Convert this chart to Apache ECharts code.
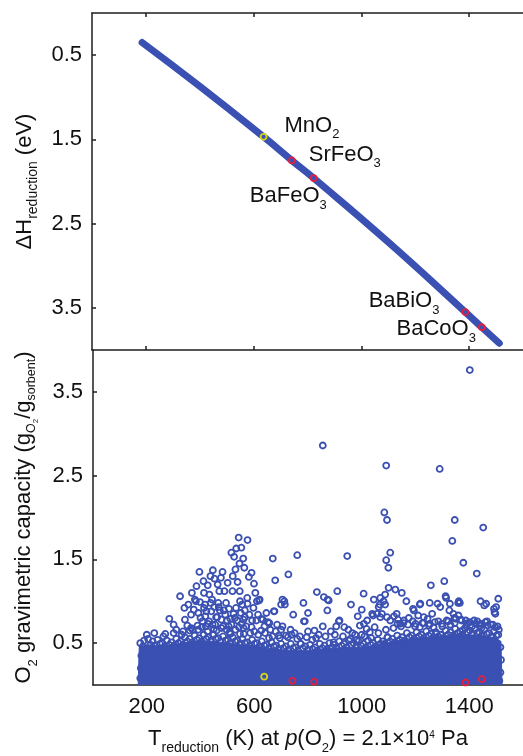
<!DOCTYPE html>
<html><head><meta charset="utf-8">
<script src="https://cdn.jsdelivr.net/npm/echarts@6/dist/echarts.min.js"></script>
<style>html,body{margin:0;padding:0;background:#fff}#c{width:523px;height:756px}</style>
</head><body><div id="c"></div>
<script>
// ---------- data ----------
const xTicks = [200, 600, 1000, 1400];
const yTicks = [0.5, 1.5, 2.5, 3.5];

// top panel: reduction enthalpy vs reduction temperature (thick band)
const curveT = [186, 400, 637, 742, 823, 1100, 1386, 1447, 1512];
const curveH = [0.35, 0.87, 1.47, 1.75, 1.96, 2.72, 3.55, 3.73, 3.92];

// highlighted compounds
const compounds = ['MnO2', 'SrFeO3', 'BaFeO3', 'BaBiO3', 'BaCoO3'];
const compoundT = [637, 742, 823, 1386, 1447];
const compoundH = [1.47, 1.75, 1.96, 3.55, 3.73];
const compoundCap = [0.10, 0.05, 0.04, 0.03, 0.07];

// bottom panel: solid dense core of overlapping points (upper envelope)
const coreT = [168, 172, 200, 250, 300, 350, 400, 450, 500, 550, 600, 650, 700, 750, 800, 850, 900, 950, 1000, 1050, 1100, 1150, 1200, 1250, 1300, 1350, 1400, 1450, 1500, 1518, 1522];
const coreCap = [0, 0.45, 0.48, 0.47, 0.48, 0.51, 0.53, 0.52, 0.50, 0.48, 0.47, 0.44, 0.42, 0.41, 0.41, 0.43, 0.44, 0.45, 0.45, 0.47, 0.51, 0.54, 0.56, 0.57, 0.58, 0.61, 0.60, 0.59, 0.56, 0.52, 0];

// bottom panel: individual points
const outliers = [[1402,3.76],[855,2.86],[1091,2.62],[1290,2.58],[1084,2.06],[1094,1.97],[1346,1.97],[1452,1.88],[1337,1.72],[1106,1.58],[1091,1.49],[1099,1.40],[1378,1.46],[1428,1.33],[946,1.54],[760,1.55],[669,1.51],[727,1.32],[678,1.25],[542,1.76],[575,1.73],[552,1.64],[533,1.63],[515,1.58],[559,1.51],[525,1.53],[396,1.35],[446,1.37],[482,1.35],[590,1.34],[580,1.29],[599,1.21],[1257,1.19],[1307,1.24]];
const clusterLeft = [[427,1.19],[411,1.24],[437,1.30],[464,1.20],[501,1.22],[538,1.23],[519,1.12],[546,1.12],[470,1.12],[433,1.08],[379,1.02],[398,0.99],[413,1.10],[417,0.96],[422,0.88],[443,1.02],[451,0.93],[466,0.98],[489,1.12],[495,0.98],[506,0.91],[472,0.89],[458,0.81],[511,0.79],[555,0.96],[565,0.89],[574,1.04],[610,1.00],[537,0.77],[592,0.77],[632,0.78],[656,0.74],[673,0.88],[342,0.78],[351,0.71],[360,0.65],[405,0.69],[432,0.76],[460,0.65],[508,0.63],[543,0.69],[561,0.61],[626,0.65],[324,1.06],[284,0.79],[620,1.02],[604,1.10],[383,1.00],[413,0.92],[438,0.98],[468,0.93],[487,0.89],[499,0.77],[523,0.85],[371,0.66],[389,0.71],[407,0.76],[428,0.73],[450,0.67],[462,0.81],[511,0.61],[269,0.61],[547,1.00],[575,0.97],[618,1.01],[565,0.81],[553,0.73],[590,0.69],[608,0.77],[626,0.79],[651,0.75],[675,0.88],[547,0.61],
  [365,0.84],[375,0.90],[392,0.86],[400,0.80],[418,0.82],[426,0.64],[440,0.88],[447,0.60],[455,0.72],[478,0.78],[484,0.70],[492,0.84],[497,0.66],[515,0.72],[528,0.80],[532,0.92],[550,0.86],[560,0.78],[570,0.70],[582,0.84],[597,0.92],[600,0.64],[614,0.84],[638,0.70],[645,0.86],[660,0.66],[685,0.72],[700,0.66],[310,0.66],[300,0.72],[330,0.60],[340,0.92],[355,0.96],[368,1.10],[385,1.18],[452,1.27],[476,1.28],[520,1.30],[563,1.40],[545,1.45],[530,1.38]];
const clusterMid = [[705,1.02],[714,0.96],[700,0.96],[712,1.00],[783,0.98],[785,0.76],[788,0.76],[833,1.11],[859,1.05],[873,1.02],[872,0.89],[877,1.01],[909,1.12],[915,0.76],[917,0.77],[960,0.96],[1007,1.09],[993,0.71],[1018,0.67],[1048,0.69],[1042,0.83],[1067,0.96],[691,0.59],[718,0.59],[739,0.60],[773,0.49],[816,0.54],[824,0.65],[895,0.51],[935,0.69],[957,0.55],[981,0.54],[1008,0.73],
  [655,0.56],[680,0.64],[705,0.70],[735,0.66],[750,0.62],[770,0.58],[800,0.64],[840,0.60],[855,0.70],[885,0.64],[905,0.70],[950,0.66],[975,0.60],[1010,0.58],[1035,0.56],[745,0.84],[800,0.86],[985,0.82],[1000,0.90]];
const clusterRight = [[1100,1.16],[1125,1.14],[1149,1.10],[1166,1.00],[1312,1.06],[1361,1.00],[1442,1.00],[1253,0.98],[1282,0.97],[1218,0.97],[1508,1.03],[1456,0.95],[1492,0.91],[1497,0.85],[1359,0.98],[1069,0.81],[1130,0.85],[1191,0.91],[1216,0.96],[1314,1.04],[1326,0.89],[1350,0.79],[1387,0.77],[1424,0.73],[1460,0.75],[1045,1.02],[1069,1.04],[1081,1.00],[1087,0.96],[1063,0.93],[1075,0.85],[1094,0.81],[1057,0.85],[1039,0.85],[1020,0.77],[1087,1.08],[1106,0.77],[1143,0.73],[1216,0.69],[1253,0.73],[1277,0.61],[1375,0.65],[1497,0.69],[1194,0.89],[1157,0.77],[1200,0.73],[1231,0.81],[1267,0.69],[1316,0.77],[1341,0.85],[1371,0.77],[1402,0.75],[1439,0.71],[1469,0.71],[1133,0.73],[1096,0.57],[1084,0.49],[1292,0.93],[1328,0.97],[1365,0.98],[1463,0.97],[1500,0.93],[1494,0.87],[1120,0.82],[1135,0.78],[1155,0.74],[1175,0.80],[1190,0.76],[1210,0.83],[1230,0.74],[1245,0.79],[1262,0.85],[1285,0.76],[1300,0.70],[1330,0.72],[1345,0.80],[1360,0.83],[1390,0.72],[1410,0.70],[1430,0.76],[1445,0.68],[1480,0.72],[1505,0.70]];
const fringeLow = [[185,0.46],[214,0.48],[231,0.47],[249,0.49],[266,0.46],[284,0.48],[301,0.47],[318,0.50],[334,0.48],[351,0.52],[369,0.51],[387,0.54],[404,0.52],[421,0.55],[439,0.53],[457,0.55],[475,0.52],[493,0.53],[511,0.50],[529,0.52],[547,0.49],[565,0.50],[583,0.47],[601,0.49],[619,0.46],[637,0.47],[655,0.44],[673,0.46],[691,0.43],[709,0.44],[727,0.42],[745,0.44],[763,0.41],[781,0.44],[799,0.42],[817,0.43],[835,0.41],[853,0.44],[871,0.43],[889,0.45],[907,0.44],[925,0.47],[943,0.45],[961,0.48],[979,0.46],[997,0.47],[1015,0.45],[1033,0.48],[1051,0.46],[1069,0.49],[1087,0.48],[1105,0.52],[1123,0.51],[1141,0.54],[1159,0.53],[1177,0.57],[1195,0.55],[1213,0.58],[1231,0.56],[1249,0.59],[1267,0.57],[1285,0.58],[1303,0.56],[1321,0.60],[1339,0.59],[1357,0.62],[1375,0.60],[1393,0.63],[1411,0.61],[1429,0.62],[1447,0.59],[1465,0.61],[1483,0.58],[1501,0.59]];
const fringe = [[176,0.50],[180,0.35],[178,0.20],[176,0.08],[190,0.53],[205,0.55],[222,0.52],[240,0.54],[258,0.50],[275,0.53],[292,0.51],[310,0.55],[326,0.52],[342,0.57],[360,0.55],[378,0.59],[395,0.56],[412,0.60],[430,0.57],[448,0.60],[466,0.56],[484,0.58],[502,0.54],[520,0.57],[538,0.53],[556,0.55],[574,0.51],[592,0.54],[610,0.50],[628,0.52],[646,0.48],[664,0.51],[682,0.47],[700,0.49],[718,0.46],[736,0.49],[754,0.45],[772,0.49],[790,0.46],[808,0.48],[826,0.45],[844,0.49],[862,0.47],[880,0.50],[898,0.48],[916,0.52],[934,0.49],[952,0.53],[970,0.50],[988,0.52],[1006,0.49],[1024,0.53],[1042,0.50],[1060,0.54],[1078,0.52],[1096,0.57],[1114,0.55],[1132,0.59],[1150,0.57],[1168,0.62],[1186,0.59],[1204,0.63],[1222,0.60],[1240,0.64],[1258,0.61],[1276,0.63],[1294,0.60],[1312,0.65],[1330,0.63],[1348,0.67],[1366,0.64],[1384,0.68],[1402,0.65],[1420,0.67],[1438,0.63],[1456,0.66],[1474,0.62],[1492,0.64],[1508,0.60],[1516,0.45],[1518,0.30],[1516,0.15],[1512,0.05]];
const fringeHigh = [[200,0.60],[228,0.62],[262,0.58],[300,0.62],[335,0.64],[365,0.68],[392,0.66],[420,0.70],[445,0.72],[478,0.68],[505,0.70],[530,0.66],[560,0.68],[585,0.62],[615,0.60],[640,0.62],[668,0.58],[695,0.56],[725,0.57],[760,0.55],[795,0.57],[830,0.56],[865,0.58],[900,0.60],[930,0.58],[965,0.62],[1000,0.60],[1030,0.63],[1062,0.62],[1090,0.66],[1118,0.68],[1146,0.70],[1172,0.72],[1198,0.70],[1226,0.74],[1250,0.71],[1272,0.75],[1298,0.73],[1322,0.76],[1346,0.74],[1370,0.78],[1394,0.74],[1418,0.77],[1442,0.73],[1466,0.76],[1488,0.72],[1510,0.66]];

// ---------- styles ----------
const FONT = '"Liberation Sans", Arial, Helvetica, sans-serif';
const INK = '#111111';
const BLUE = '#3a50b2';
const YELLOW = '#d6d616';
const RED = '#e3203e';
const axisLineStyle = { color: '#1e1e1e', width: 1.5 };
const rich = {
  m:   { fontSize: 22, fontFamily: FONT, color: INK, lineHeight: 24 },
  i:   { fontSize: 22, fontFamily: FONT, color: INK, lineHeight: 24, fontStyle: 'italic' },
  s:   { fontSize: 13, fontFamily: FONT, color: INK, lineHeight: 13, padding: [18, 0, 0, 0] },
  sl:  { fontSize: 14, fontFamily: FONT, color: INK, lineHeight: 14, padding: [18, 0, 0, 0] },
  ss:  { fontSize: 12.5, fontFamily: FONT, color: INK, lineHeight: 12, padding: [16, 0, 0, 0] },
  sss: { fontSize: 8,  fontFamily: FONT, color: INK, lineHeight: 8,  padding: [24, 0, 0, 0] },
  sup: { fontSize: 10, fontFamily: FONT, color: INK, lineHeight: 10, padding: [0, 0, 8, 0] }
};
const compoundText = ['{m|MnO}{s|2}', '{m|SrFeO}{s|3}', '{m|BaFeO}{s|3}', '{m|BaBiO}{s|3}', '{m|BaCoO}{s|3}'];
const labelLayout = [
  { position: 'right', offset: [17, -11] },
  { position: 'right', offset: [13, -6] },
  { position: 'left', offset: [17, 18] },
  { position: 'left', offset: [-22, -11] },
  { position: 'left', offset: [-2, 2] }
];
const tickFmt = v => String(v);

function xAxisBase(grid, pos) {
  return {
    gridIndex: grid, type: 'value', min: 0, max: 1600, position: pos,
    axisLine: { show: true, onZero: false, lineStyle: axisLineStyle },
    axisTick: { show: true, inside: true, length: 4, customValues: xTicks, lineStyle: axisLineStyle },
    axisLabel: { show: false },
    splitLine: { show: false }
  };
}
function yAxisBase(grid, inverse, name, gap) {
  return {
    gridIndex: grid, type: 'value', min: 0, max: 4, inverse: inverse,
    axisLine: { show: true, onZero: false, lineStyle: axisLineStyle },
    axisTick: { show: true, inside: true, length: 4, customValues: yTicks, lineStyle: axisLineStyle },
    axisLabel: { show: true, customValues: yTicks, formatter: tickFmt, margin: 10, fontSize: 22, fontFamily: FONT, color: INK },
    splitLine: { show: false },
    name: name, nameLocation: 'middle', nameGap: gap,
    nameTextStyle: { rich: rich, fontSize: 22, fontFamily: FONT, color: INK }
  };
}

const xBottom = xAxisBase(1, 'bottom');
xBottom.axisLabel = { show: true, customValues: xTicks, formatter: tickFmt, margin: 11, fontSize: 22, fontFamily: FONT, color: INK };
xBottom.name = '{m|T}{sl|reduction}{m| (K) at }{i|p}{m|(O}{s|2}{m|) = 2.1×10}{sup|4}{m| Pa}';
xBottom.nameLocation = 'middle';
xBottom.nameGap = 42;
xBottom.nameTextStyle = { rich: rich, fontSize: 22, fontFamily: FONT, color: INK };

const ring = c => ({ color: 'rgba(0,0,0,0)', borderColor: c, borderWidth: 1.8, opacity: 1 });

const option = {
  animation: false,
  backgroundColor: '#fff',
  grid: [
    { left: 92, right: -5, top: 13, height: 337 },
    { left: 92, right: -5, top: 350, height: 338 }
  ],
  xAxis: [xAxisBase(0, 'bottom'), xAxisBase(0, 'top'), xBottom],
  yAxis: [
    yAxisBase(0, true, '{m|ΔH}{sl|reduction}{m| (eV)}', 53),
    yAxisBase(1, false, '{m|O}{s|2}{m| gravimetric capacity (g}{ss|O}{sss|2}{m|/g}{ss|sorbent}{m|)}', 57)
  ],
  series: [
    {
      type: 'line', xAxisIndex: 0, yAxisIndex: 0, smooth: true, symbol: 'none',
      data: curveT.map((t, i) => [t, curveH[i]]),
      lineStyle: { color: BLUE, width: 7, cap: 'round' }, z: 2
    },
    {
      type: 'scatter', xAxisIndex: 0, yAxisIndex: 0, symbol: 'circle', symbolSize: 6, z: 5,
      data: compounds.map((c, i) => ({
        name: c, value: [compoundT[i], compoundH[i]],
        itemStyle: ring(i === 0 ? YELLOW : RED),
        label: {
          show: true, position: labelLayout[i].position, distance: 0, offset: labelLayout[i].offset,
          formatter: compoundText[i], rich: rich, color: INK, textBorderWidth: 0
        }
      }))
    },
    {
      type: 'line', xAxisIndex: 2, yAxisIndex: 1, symbol: 'none', smooth: false,
      data: coreT.map((t, i) => [t, coreCap[i]]),
      lineStyle: { color: BLUE, width: 1 },
      areaStyle: { color: BLUE, opacity: 1 }, z: 1
    },
    {
      type: 'scatter', xAxisIndex: 2, yAxisIndex: 1, symbol: 'circle', symbolSize: 6, z: 3,
      data: [].concat(fringeLow, fringe, fringeHigh, clusterLeft, clusterMid, clusterRight, outliers),
      itemStyle: ring(BLUE)
    },
    {
      type: 'scatter', xAxisIndex: 2, yAxisIndex: 1, symbol: 'circle', symbolSize: 6, z: 5,
      data: compounds.map((c, i) => ({
        name: c, value: [compoundT[i], compoundCap[i]],
        itemStyle: ring(i === 0 ? YELLOW : RED)
      }))
    }
  ]
};
const chart = echarts.init(document.getElementById('c'), null, { renderer: 'canvas' });
chart.setOption(option);
</script>
</body></html>
